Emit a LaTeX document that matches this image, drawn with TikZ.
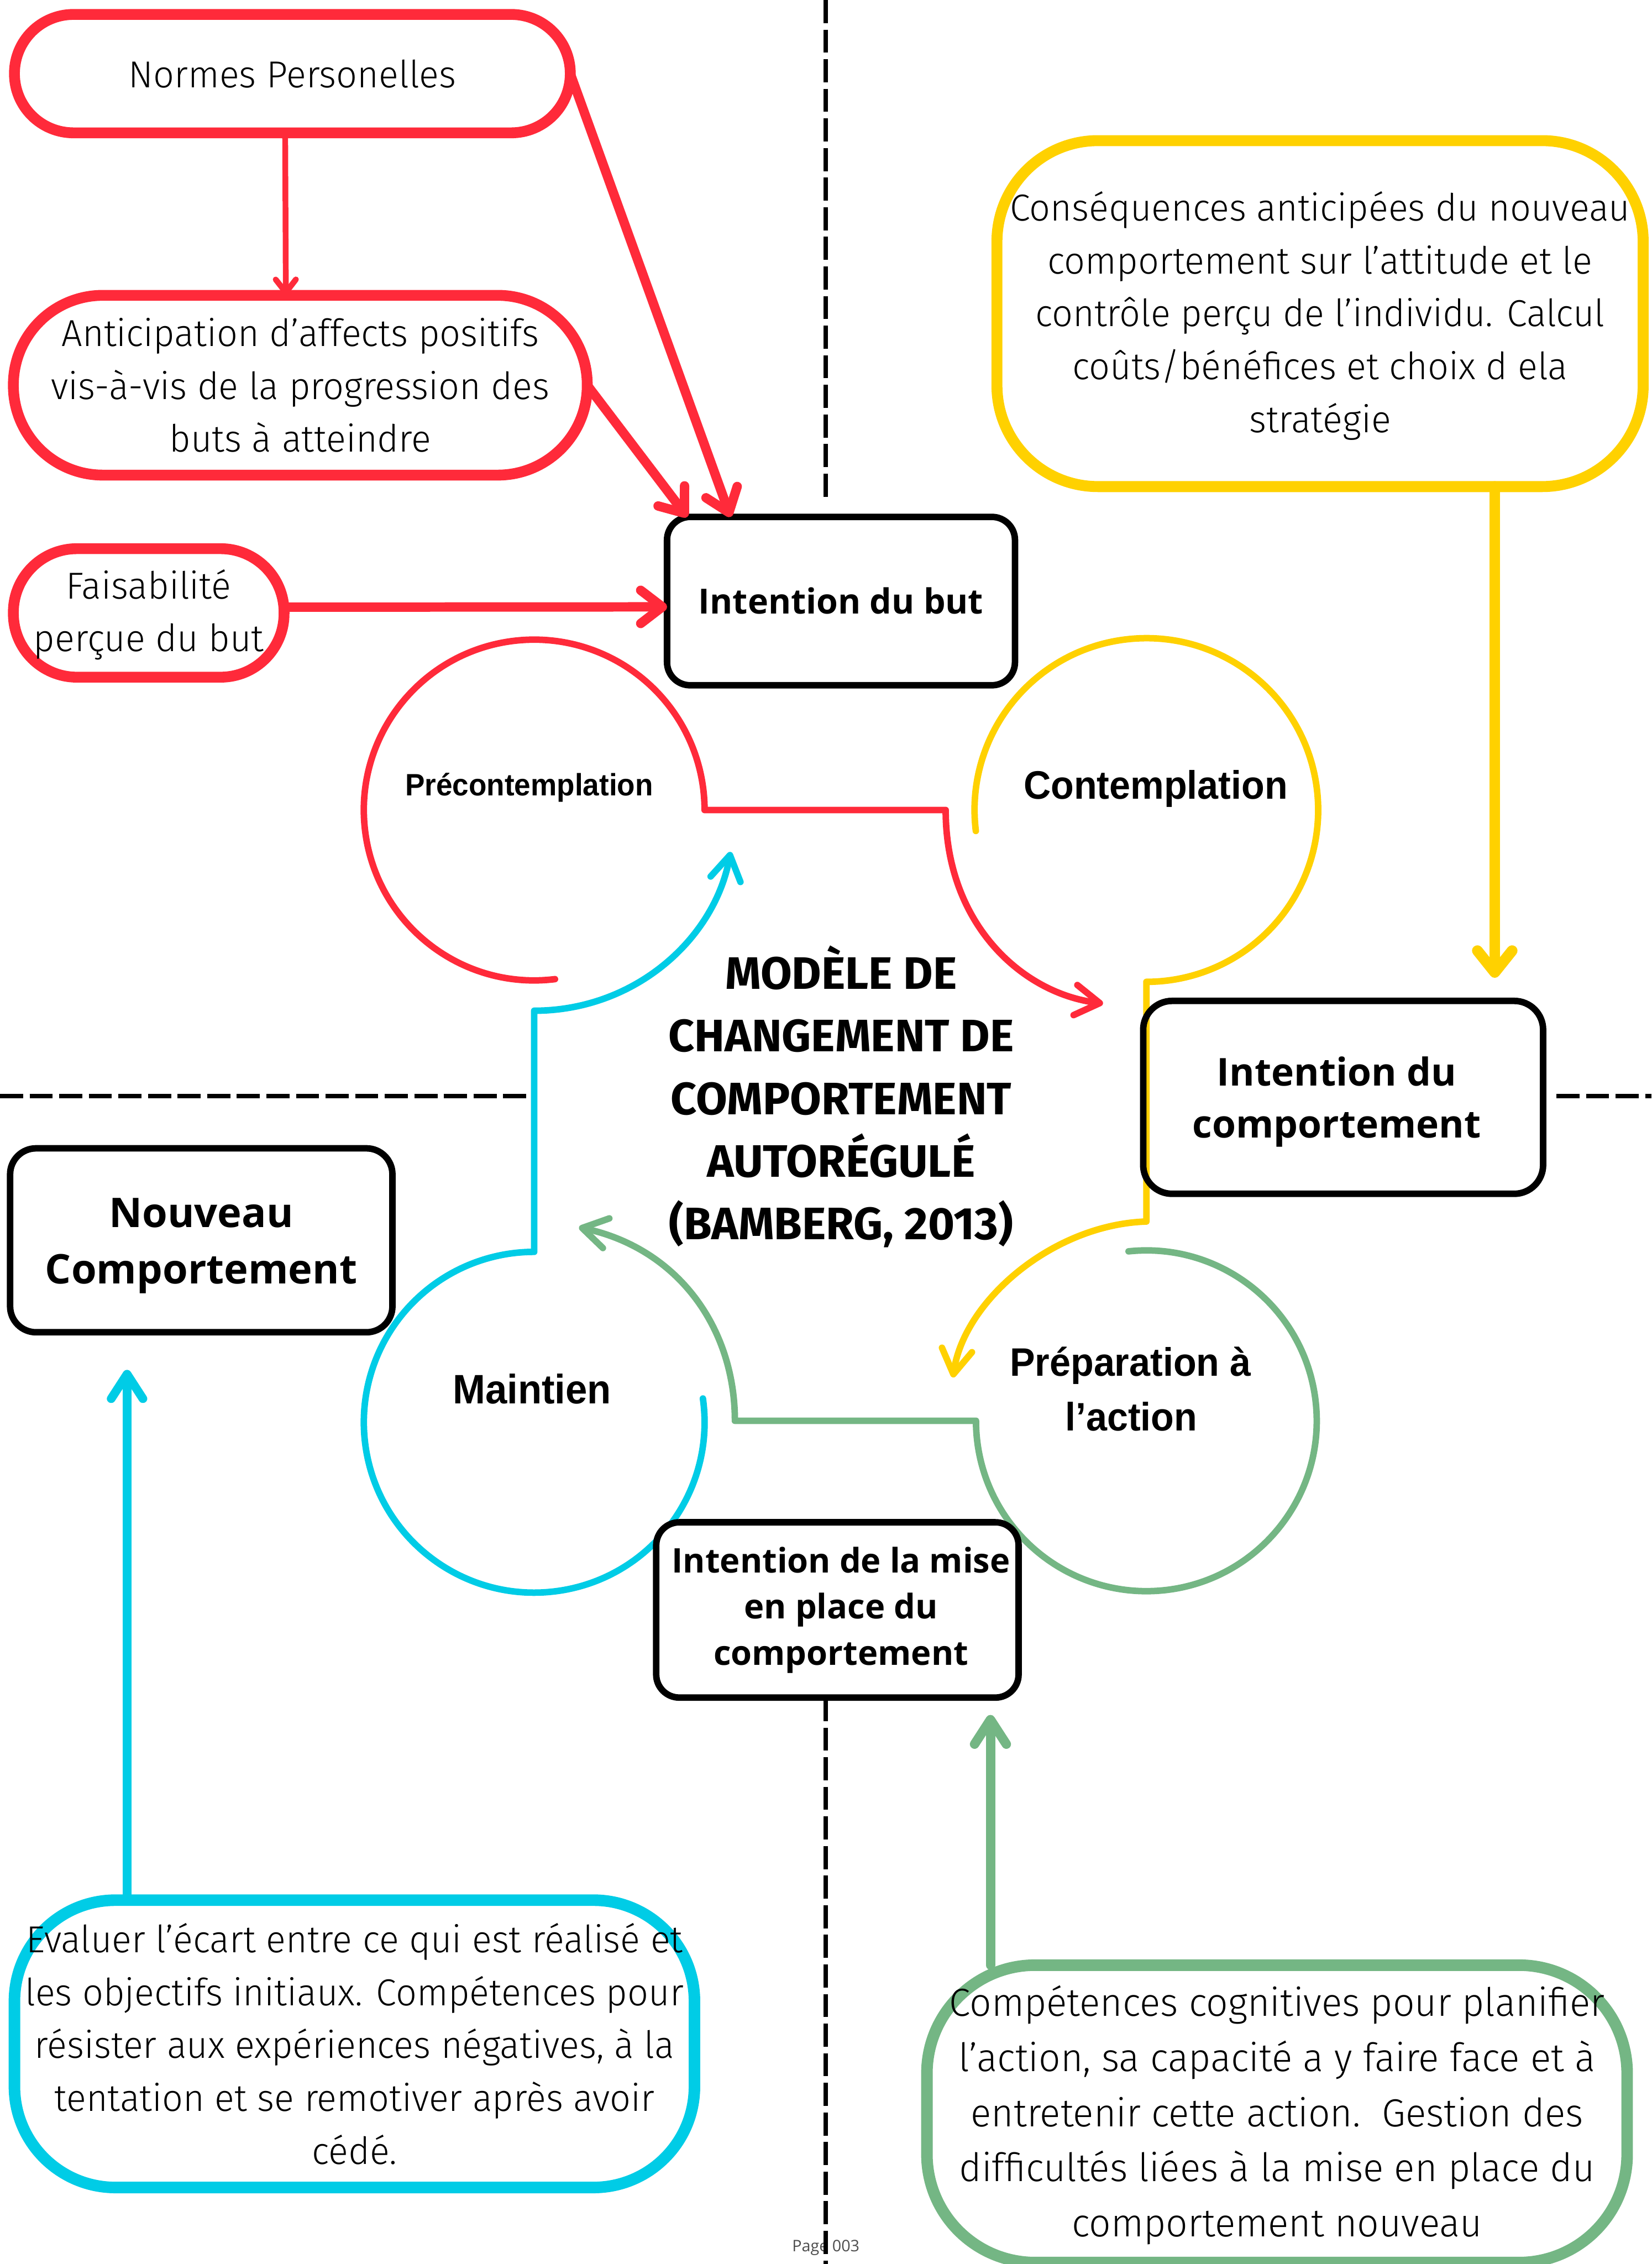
\documentclass[tikz,border=0pt]{standalone}
\usepackage{fontspec}
\usetikzlibrary{arrows.meta}

\IfFontExistsTF{Fira Sans Book}
  {\newfontfamily\bodyfont{Fira Sans Book}[FakeStretch=0.97]}
  {\IfFontExistsTF{Fira Sans Light}
    {\newfontfamily\bodyfont{Fira Sans Light}[FakeStretch=0.98]}
    {\newfontfamily\bodyfont{Fira Sans}[FakeStretch=0.97]}}
\newfontfamily\titlefont{Fira Sans}
\newfontfamily\boxfont{Open Sans}
\newfontfamily\stagefont{Liberation Sans}[FakeStretch=0.95]
\newfontfamily\pagefont{Open Sans}

% struts that fix the height of the first line and the depth of the last one
\newcommand\topstrut[1]{\rule{0pt}{#1pt}}
\newcommand\botstrut[1]{\rule[-#1pt]{0pt}{0pt}}

\definecolor{cred}{RGB}{255,42,58}
\definecolor{cyel}{RGB}{255,209,0}
\definecolor{cgrn}{RGB}{116,182,132}
\definecolor{ccya}{RGB}{0,204,230}
\definecolor{pagegray}{RGB}{77,77,77}

\begin{document}
\begin{tikzpicture}[x=1pt,y=-1pt,
  every node/.style={inner sep=0pt,outer sep=0pt},
  bodytext/.style={font=\bodyfont\fontsize{26}{36.6}\selectfont, align=center},
  pill/.style={draw=#1, bodytext, rectangle},
  blackbox/.style={draw=black, line width=4.5pt, rectangle, align=center},
  ring/.style={circle, minimum size=#1, draw=none},
  cyclearc/.style={draw=#1, line width=4.5pt, line cap=round, line join=round,
    -{Straight Barb[length=17pt,width=21pt,round]}},
  link/.style={draw=#1, line width=6.5pt, line cap=round,
    -{Straight Barb[length=15pt,width=23pt,round]}},
  divider/.style={draw=black, line width=3pt, dash pattern=on 16pt off 4.5pt},
  stagelbl/.style={font=\stagefont\bfseries\fontsize{27.5}{38}\selectfont, anchor=base},
]
\fill[white] (0,0) rectangle (1144,1568);
\useasboundingbox (0,0) rectangle (1144,1568);

% page number, partly covered by the divider
\node[font=\pagefont\fontsize{11}{13}\selectfont, text=pagegray, anchor=base] (page) at (572,1559.5) {Page 003};

% quadrant dividers
\draw[divider] (572,0) -- (572,347);
\draw[divider] (572,1176) -- (572,1568);
\draw[divider] (0,759) -- (365,759);
\draw[divider] (1078,759) -- (1144,759);

% the four stages of the cycle
\node[ring=236pt] (pre)  at (370,561) {};
\node[ring=238pt] (cont) at (794,561) {};
\node[ring=236pt] (prep) at (794,984) {};
\node[ring=236pt] (main) at (370,985) {};

\coordinate (redknee) at (655,561);
\coordinate (redtip)  at (764,695);
\coordinate (yelknee) at (794,846);
\coordinate (yeltip)  at (660,954);
\coordinate (grnknee) at (509,984);
\coordinate (grntip)  at (401,850);
\coordinate (cyaknee) at (370,700);
\coordinate (cyatip)  at (506,590);

\draw[cyclearc=cred] (pre.-83) arc[start angle=-83, end angle=-360, radius=118pt]
  -- (redknee) .. controls +(0,79) and +(-56,-7) .. (redtip);
\draw[cyclearc=cyel] (cont.-173) arc[start angle=-173, end angle=-450, radius=119pt]
  -- (yelknee) .. controls +(-64,2) and +(8,-54) .. (yeltip);
\draw[cyclearc=cgrn] (prep.96) arc[start angle=96, end angle=-180, radius=118pt]
  -- (grnknee) .. controls +(0,-64) and +(69,15) .. (grntip);
\draw[cyclearc=ccya] (main.8) arc[start angle=8, end angle=-270, radius=118pt]
  -- (cyaknee) .. controls +(70,0) and +(-11,60) .. (cyatip);

% factor boxes
\node[pill=cred, line width=7.5pt, rounded corners=40.9pt, minimum width=385pt, minimum height=82pt]
  (normes) at (202.5,51) {Normes Personelles};
\node[pill=cred, line width=7.5pt, rounded corners=62pt, minimum width=397.5pt, minimum height=124.5pt]
  (antic) at (208,266.8) {Anticipation d’affects positifs\\vis-à-vis de la progression des\\buts à atteindre};
\node[pill=cred, line width=7.5pt, rounded corners=44pt, minimum width=187.5pt, minimum height=89pt]
  (faisa) at (103,424.5) {\topstrut{28}Faisabilité\\perçue du but\botstrut{11}};
\node[pill=cyel, line width=7.6pt, rounded corners=70pt, minimum width=447.6pt, minimum height=239.6pt]
  (conseq) at (914.3,217.2) {\topstrut{30}Conséquences anticipées du nouveau\\comportement sur l’attitude et le\\contrôle perçu de l’individu. Calcul\\coûts/bénéfices et choix d ela\\stratégie\botstrut{12}};
\node[pill=ccya, line width=8pt, rounded corners=70pt, minimum width=471pt, minimum height=199pt]
  (evaluer) at (245.5,1415.5) {Evaluer l’écart entre ce qui est réalisé et\\les objectifs initiaux. Compétences pour\\résister aux expériences négatives, à la\\tentation et se remotiver après avoir\\cédé.};
\node[pill=cgrn, line width=8pt, rounded corners=75pt, minimum width=485pt, minimum height=206pt,
  font=\bodyfont\fontsize{27.1}{38.2}\selectfont]
  (compet) at (884.5,1464) {\topstrut{30}Compétences cognitives pour planifier\\l’action, sa capacité a y faire face et à\\entretenir cette action.\ \ Gestion des\\difficultés liées à la mise en place du\\comportement nouveau\botstrut{12.6}};

% intention boxes
\node[blackbox, fill=white, rounded corners=16pt, minimum width=241pt, minimum height=116.6pt,
  font=\boxfont\bfseries\fontsize{24}{32}\selectfont] (but) at (582.5,416.3) {Intention du but};
\node[blackbox, rounded corners=20pt, minimum width=277pt, minimum height=133.6pt,
  font=\boxfont\bfseries\fontsize{26.6}{36}\selectfont] (icomp) at (930.3,760)
  {\topstrut{30}Intention du\hspace*{9pt}\\comportement\hspace*{9pt}\botstrut{10.2}};
\node[blackbox, fill=white, rounded corners=18pt, minimum width=264.8pt, minimum height=127.4pt,
  font=\boxfont\bfseries\fontsize{28.3}{39}\selectfont] (nouveau) at (139.4,859)
  {\topstrut{32}Nouveau\\Comportement\botstrut{10.6}};
\node[blackbox, fill=white, rounded corners=16pt, minimum width=251pt, minimum height=121.4pt,
  font=\boxfont\bfseries\fontsize{23.5}{32}\selectfont] (imise) at (580,1115)
  {\hspace*{5pt}Intention de la mise\\\hspace*{5pt}en place du\\\hspace*{5pt}comportement};

% influences
\draw[link=cred, line width=4pt, -{Straight Barb[length=9pt,width=14pt,round]}]
  ([xshift=-5pt]normes.south) -- ([xshift=-10pt]antic.north);
\draw[link=cred] (normes.east) -- ([xshift=44pt]but.north west);
\draw[link=cred] (antic.east) -- ([xshift=14pt]but.north west);
\draw[link=cred] ([yshift=4pt]faisa.east) -- ([yshift=-4pt]but.west);
\draw[link=cyel, line width=7.5pt, -{Straight Barb[length=15pt,width=24pt,round]}, shorten >=16pt]
  ([xshift=121pt]conseq.south) -- ([xshift=105pt]icomp.north);
\draw[link=ccya, line width=6pt, -{Straight Barb[length=17pt,width=22pt,round]}, shorten >=26pt]
  ([xshift=-157.5pt]evaluer.north) -- ([xshift=-51.4pt]nouveau.south);
\draw[link=cgrn, line width=6.5pt, -{Straight Barb[length=17pt,width=22pt,round]}, shorten >=12pt]
  ([xshift=-198.5pt]compet.north) -- ([xshift=106pt]imise.south);

% stage names and title
\node[stagelbl, font=\stagefont\bfseries\fontsize{21.4}{24}\selectfont] (tpre) at (366.5,551) {Précontemplation};
\node[stagelbl] (tcont) at (800.5,553.3) {Contemplation};
\node[stagelbl, font=\stagefont\bfseries\fontsize{28.5}{38}\selectfont] (tmain) at (368.5,972) {Maintien};
\node[stagelbl] (tprep1) at (783,953) {Préparation à};
\node[stagelbl] (tprep2) at (783.5,991) {l’action};

\node[font=\titlefont\bfseries\fontsize{31.5}{43.4}\selectfont, align=center] (title) at (582.6,759.5)
  {MODÈLE DE\\CHANGEMENT DE\\COMPORTEMENT\\AUTORÉGULÉ\\(BAMBERG, 2013)};
\end{tikzpicture}
\end{document}
